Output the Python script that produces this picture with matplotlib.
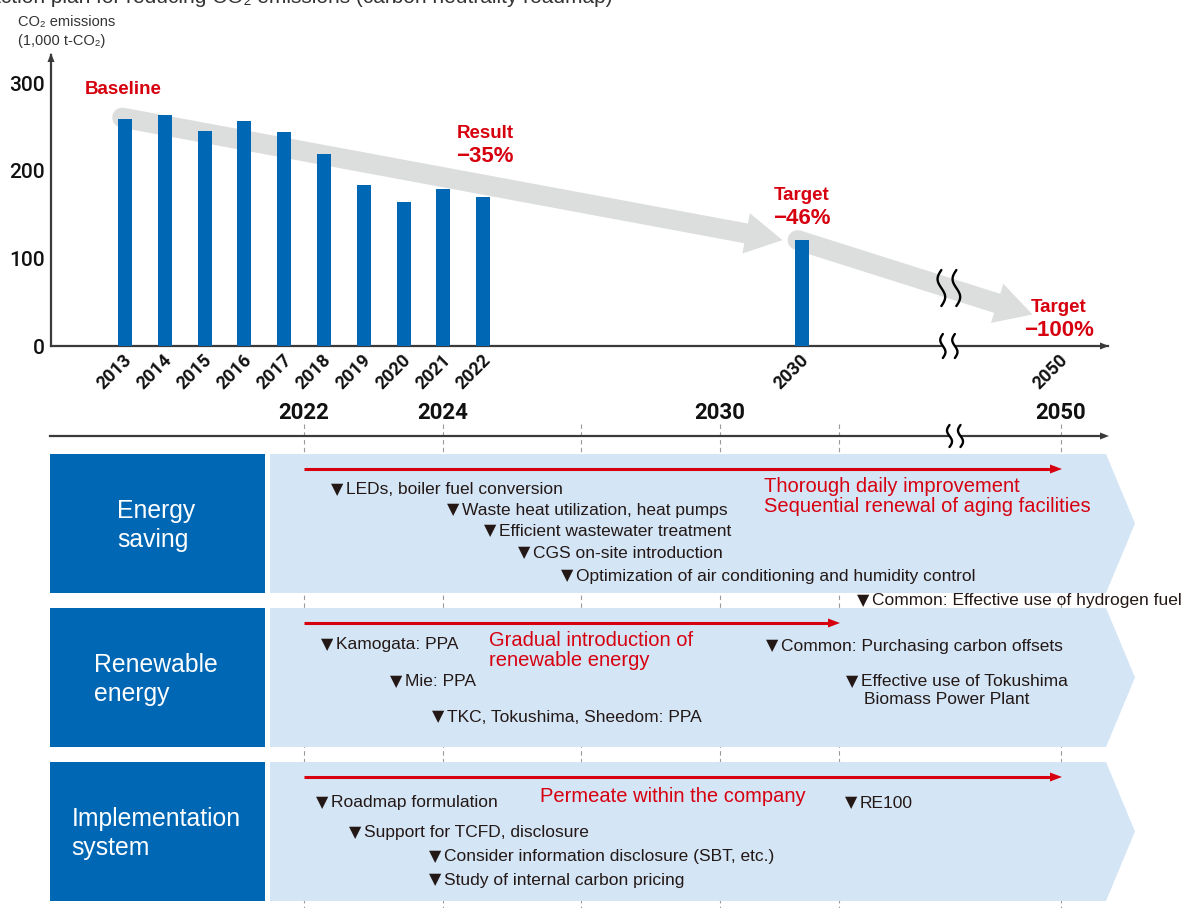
import numpy as np
import matplotlib
matplotlib.use("Agg")
import matplotlib.pyplot as plt
from matplotlib.patches import Polygon, Rectangle
from matplotlib.lines import Line2D

plt.rcParams['font.family'] = ['Liberation Sans', 'DejaVu Sans']

# ---------------- emissions data ----------------
years = [2013, 2014, 2015, 2016, 2017, 2018, 2019, 2020, 2021, 2022, 2030]
emissions = [260, 264, 246, 257, 245, 219, 184, 165, 180, 170, 121]
final_year = "2050"
y_ticks = [0, 100, 200, 300]

baseline_label = "Baseline"
result_label = ("Result", "\u221235%")
target_2030_label = ("Target", "\u221246%")
target_2050_label = ("Target", "\u2212100%")

# ---------------- roadmap data ----------------
timeline_labels = ["2022", "2024", "", "2030", "", "2050"]
row_titles = ["Energy\nsaving", "Renewable\nenergy", "Implementation\nsystem"]

energy_items = ["\u25bcLEDs, boiler fuel conversion",
                "\u25bcWaste heat utilization, heat pumps",
                "\u25bcEfficient wastewater treatment",
                "\u25bcCGS on-site introduction",
                "\u25bcOptimization of air conditioning and humidity control",
                "\u25bcCommon: Effective use of hydrogen fuel"]
energy_notes = ["Thorough daily improvement", "Sequential renewal of aging facilities"]

renew_items = ["\u25bcKamogata: PPA",
               "\u25bcMie: PPA",
               "\u25bcTKC, Tokushima, Sheedom: PPA",
               "\u25bcCommon: Purchasing carbon offsets",
               "\u25bcEffective use of Tokushima",
               "Biomass Power Plant"]
renew_notes = ["Gradual introduction of", "renewable energy"]

impl_items = ["\u25bcRoadmap formulation",
              "\u25bcSupport for TCFD, disclosure",
              "\u25bcConsider information disclosure (SBT, etc.)",
              "\u25bcStudy of internal carbon pricing",
              "\u25bcRE100"]
impl_notes = ["Permeate within the company"]

# ---------------- styling / layout ----------------
BLUE = '#0067b5'
LIGHT = '#d4e5f6'
GRAY = '#dcdddd'
RED = '#d7000f'
INK = '#231815'
AXIS = '#3a3a3a'
NUM_FONT = ['Roboto', 'DejaVu Sans']

W, H = 1184, 908
fig = plt.figure(figsize=(W / 100, H / 100), dpi=100)
fig.patch.set_facecolor('white')

# full-figure overlay in pixel coordinates (y downwards)
base = fig.add_axes([0, 0, 1, 1])
base.set_xlim(0, W)
base.set_ylim(H, 0)
base.axis('off')
base.set_zorder(2)
base.patch.set_visible(False)


def fig_box(l, t, r, b):
    return [l / W, 1 - b / H, (r - l) / W, (b - t) / H]


# bar chart axes: x = year (axis is broken after 2030), y = emissions
AX_L, AX_T, AX_R, AX_B = 51, 55, 1108, 346
X0_PX, PX_PER_YEAR, PX_PER_UNIT = 125.0, 39.8, 0.875
final_pos = 2036.5      # where 2050 sits on the broken axis
break_pos = 2033.7

ax = fig.add_axes(fig_box(AX_L, AX_T, AX_R, AX_B))
ax.set_zorder(1)
ax.patch.set_visible(False)
ax.set_xlim(years[0] + (AX_L - X0_PX) / PX_PER_YEAR, years[0] + (AX_R - X0_PX) / PX_PER_YEAR)
ax.set_ylim(0, (AX_B - AX_T) / PX_PER_UNIT)
for s in ('top', 'right'):
    ax.spines[s].set_visible(False)
for s in ('left', 'bottom'):
    ax.spines[s].set_linewidth(1.6)
    ax.spines[s].set_color(AXIS)
ax.set_xticks([])
ax.set_yticks(y_ticks)
ax.set_yticklabels([str(v) for v in y_ticks], family=NUM_FONT, fontsize=15,
                   fontweight='medium', color='#111')
ax.tick_params(axis='y', length=0, pad=4.5)

# axis arrow heads
base.add_patch(Polygon([(AX_R + 1, AX_B), (AX_R - 8, AX_B - 3.5), (AX_R - 8, AX_B + 3.5)],
                       closed=True, color=AXIS, lw=0))
base.add_patch(Polygon([(AX_L, AX_T - 2), (AX_L - 3.5, AX_T + 7), (AX_L + 3.5, AX_T + 7)],
                       closed=True, color=AXIS, lw=0))


def px(x, y):
    dx, dy = ax.transData.transform((x, y))
    return np.array([dx, H - dy])


def band_arrow(p0, p1, width=20, head_len=37, head_w=41):
    d = p1 - p0
    u = d / np.hypot(*d)
    n = np.array([-u[1], u[0]])
    neck = p1 - u * head_len
    ax.add_line(Line2D([p0[0], neck[0]], [p0[1], neck[1]], lw=width * 0.72, color=GRAY,
                       solid_capstyle='round', transform=base.transData, zorder=1,
                       clip_on=False))
    ax.add_patch(Polygon([p1, neck + n * head_w / 2, neck - n * head_w / 2], closed=True,
                         color=GRAY, lw=0, transform=base.transData, zorder=1, clip_on=False))


def squiggle(xc, yc, h, amp, lw=1.7):
    t = np.linspace(0, 1, 80)
    base.plot(xc - amp * np.sin(2 * np.pi * t), yc - h / 2 + h * t, color='black',
              lw=lw, solid_capstyle='round', zorder=6)


def double_break(xc, yc, h, amp, gap=13, white=True):
    if white:
        base.add_patch(Rectangle((xc - gap / 2, yc - 3), gap, 6, color='white', lw=0, zorder=5))
    squiggle(xc - gap / 2, yc, h, amp)
    squiggle(xc + gap / 2, yc, h, amp)


# trend arrows behind the bars
p_start = px(years[0] - 0.07, emissions[0] + 1)
p_2030 = px(years[-1] - 0.48, emissions[-1])
band_arrow(p_start, p_2030)
p_2030b = px(years[-1] - 0.1, emissions[-1])
p_2050 = px(final_pos - 0.7, 36)
band_arrow(p_2030b, p_2050)

# bars
ax.bar(years, emissions, width=0.352, color=BLUE, zorder=3)

# rotated year labels
for pos, lab in zip(years + [final_pos], [str(y) for y in years] + [final_year]):
    ax.annotate(lab, xy=(pos, 0), xytext=(-2, -5), textcoords='offset pixels',
                rotation=45, rotation_mode='anchor', ha='right', va='top',
                family=NUM_FONT, fontsize=13, fontweight='bold', color='#111',
                annotation_clip=False)

# breaks on trend arrow and axis
xb = px(break_pos, 0)[0]
yb = p_2030b[1] + (xb - p_2030b[0]) * (p_2050[1] - p_2030b[1]) / (p_2050[0] - p_2030b[0])
double_break(xb, yb, 36, 3.8, gap=15, white=False)
double_break(xb, AX_B, 24, 2.6, gap=12)

# y axis title and header
base.text(18, 22, "CO\u2082 emissions", fontsize=10.5, color='#333', va='center', ha='left')
base.text(18, 41, "(1,000 t-CO\u2082)", fontsize=10.5, color='#333', va='center', ha='left')
base.text(-13, 3, "Action plan for reducing CO\u2082 emissions (carbon neutrality roadmap)",
          fontsize=15, color='#333', va='baseline', ha='left')

# red annotations
base.text(85, 90, baseline_label, fontsize=13.5, fontweight='bold', color=RED, va='center')
for (word, pct), cx, y0 in [(result_label, 485, 133), (target_2030_label, 802, 196),
                            (target_2050_label, 1059, 308)]:
    base.text(cx, y0, word, fontsize=13.5, fontweight='bold', color=RED, va='center', ha='center')
    base.text(cx, y0 + 23, pct, fontsize=16, fontweight='bold', color=RED, va='center', ha='center')

# ---------------- roadmap timeline ----------------
TL_Y = 436
grid_x = [304, 443, 581, 720, 839, 1061]
base.plot([50, 1104], [TL_Y, TL_Y], color=AXIS, lw=1.6, zorder=3)
base.add_patch(Polygon([(1109, TL_Y), (1100, TL_Y - 3.5), (1100, TL_Y + 3.5)], closed=True,
                       color=AXIS, lw=0, zorder=3))
double_break(955, TL_Y, 22, 2.5, gap=11)
for gx, lab in zip(grid_x, timeline_labels):
    base.plot([gx, gx], [424, H], color='#9a9a9a', lw=0.8, ls=(0, (4, 3)), zorder=1)
    if lab:
        base.text(gx, 413, lab, family=NUM_FONT, fontsize=16, fontweight='bold',
                  color='#111', ha='center', va='center')

rows = [(454, 593), (608, 747), (762, 901)]
arrow_ends = [1061, 839, 1061]
for (top, bot), title, xend in zip(rows, row_titles, arrow_ends):
    mid = (top + bot) / 2
    base.add_patch(Rectangle((50, top), 215, bot - top, color=BLUE, lw=0, zorder=2))
    base.add_patch(Polygon([(270, top), (1106, top), (1135, mid), (1106, bot), (270, bot)],
                           closed=True, color=LIGHT, lw=0, zorder=2))
    base.text(156, mid + 2, title, fontsize=17.8, color='white', ha='center', va='center',
              multialignment='left', linespacing=1.27, zorder=4)
    ay = top + 15
    base.plot([304, xend - 9], [ay, ay], color=RED, lw=2.2, zorder=4, solid_capstyle='butt')
    base.add_patch(Polygon([(xend + 1, ay), (xend - 11, ay - 4.5), (xend - 11, ay + 4.5)],
                           closed=True, color=RED, lw=0, zorder=4))


def put(items, positions, color=INK, size=12.5):
    for txt, (x, y) in zip(items, positions):
        if txt.startswith("\u25bc"):
            # marker glyph set tight against its caption
            base.text(x, y, "\u25bc", fontsize=size * 0.92, color=color, ha='left',
                      va='center', family=['DejaVu Sans'], zorder=5)
            x, txt = x + 15, txt[1:]
        base.text(x, y, txt, fontsize=size, color=color, ha='left', va='center', zorder=5)


put(energy_items, [(331, 490), (447, 510), (484, 531), (518, 553), (561, 576), (857, 601)])
put(energy_notes, [(764, 487), (764, 506)], color=RED, size=14.5)
put(renew_items, [(321, 645), (390, 682), (432, 717), (766, 646), (846, 682), (864, 700)])
put(renew_notes, [(489, 641), (489, 661)], color=RED, size=14.5)
put(impl_items, [(316, 803), (349, 833), (429, 857), (429, 880), (845, 803)])
put(impl_notes, [(540, 796)], color=RED, size=14.5)

fig.savefig("out.png", dpi=100)
